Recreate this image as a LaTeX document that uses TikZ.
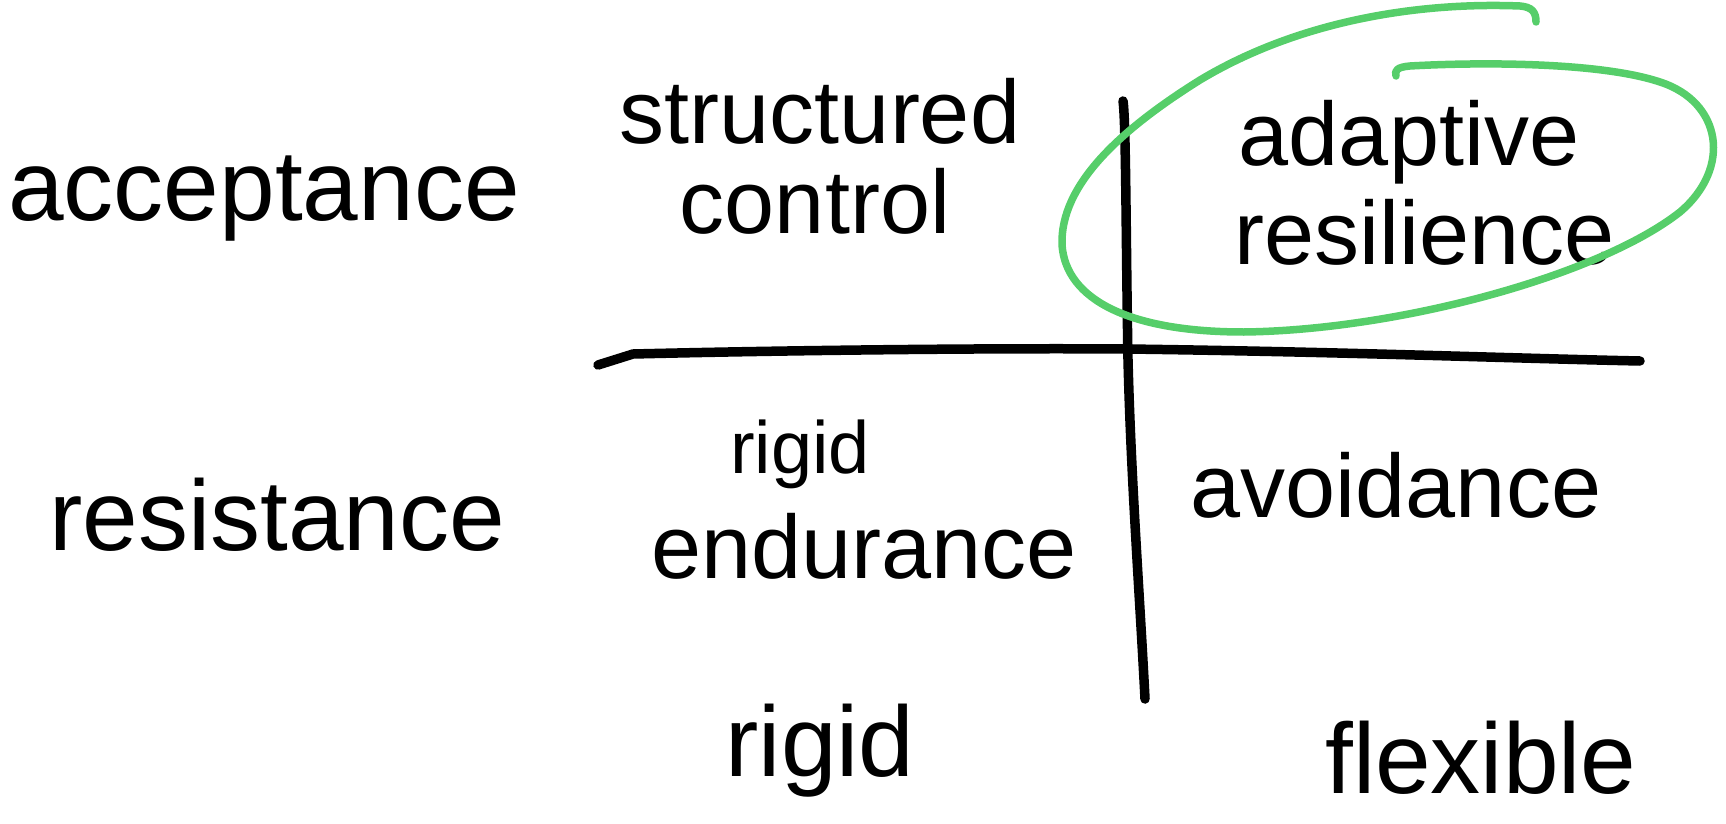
\documentclass[tikz,border=0pt]{standalone}
\usepackage{fontspec}
\setmainfont{Liberation Sans}
\definecolor{pen}{RGB}{86,206,106}
\tikzset{
  axis/.style={line width=9.5pt, line cap=round, line join=round, black},
  ring/.style={line width=7.5pt, line cap=round, line join=round, pen},
  biglab/.style={anchor=base, inner sep=0pt, font=\fontsize{100}{100}\selectfont},
  cell/.style={anchor=base, inner sep=0pt, font=\fontsize{90}{90}\selectfont},
  smallcell/.style={anchor=base, inner sep=0pt, font=\fontsize{74}{74}\selectfont}
}
\begin{document}
\begin{tikzpicture}[x=1pt,y=-1pt]
\useasboundingbox (0,0) rectangle (1726,824);
% axes
\coordinate (vtop) at (1123,101);
\coordinate (vmid) at (1128,360);
\coordinate (vbot) at (1145,699);
\coordinate (hl) at (598,365);
\coordinate (hl2) at (633,354);
\coordinate (hr) at (1640,361);
\draw[axis] (vtop) .. controls (1126,120) and (1126,250) .. (vmid) .. controls (1131,480) and (1140,600) .. (vbot);
\draw[axis] (hl) -- (hl2) .. controls (800,350) and (1000,348) .. (1128,349) .. controls (1350,352) and (1500,358) .. (hr);
% row / column labels
\node[biglab] (acc) at (264,220) {acceptance};
\node[biglab] (res) at (277,550) {resistance};
\node[biglab] (rig) at (820,776) {rigid};
\node[biglab] (flex) at (1481,793) {flexible};
% cells
\node[cell] (sc1) at (820,143) {structured};
\node[cell] (sc2) at (815,233) {control};
\node[cell] (ar1) at (1409,165) {adaptive};
\node[cell] (ar2) at (1425,264) {resilience};
\node[smallcell] (re1) at (800,473) {rigid};
\node[cell] (re2) at (864,578) {endurance};
\node[cell] (av) at (1396,517) {avoidance};
% green loop
\draw[ring] (1536,22) .. controls (1536,12) and (1532,7) .. (1520,6)
  .. controls (1420,2) and (1300,20) .. (1200,80)
  .. controls (1120,130) and (1060,185) .. (1062,245)
  .. controls (1066,300) and (1130,332) .. (1244,332)
  .. controls (1400,330) and (1600,275) .. (1680,212)
  .. controls (1732,168) and (1722,102) .. (1660,82)
  .. controls (1600,62) and (1480,62) .. (1410,66)
  .. controls (1398,67) and (1394,70) .. (1396,76);
\end{tikzpicture}
\end{document}
